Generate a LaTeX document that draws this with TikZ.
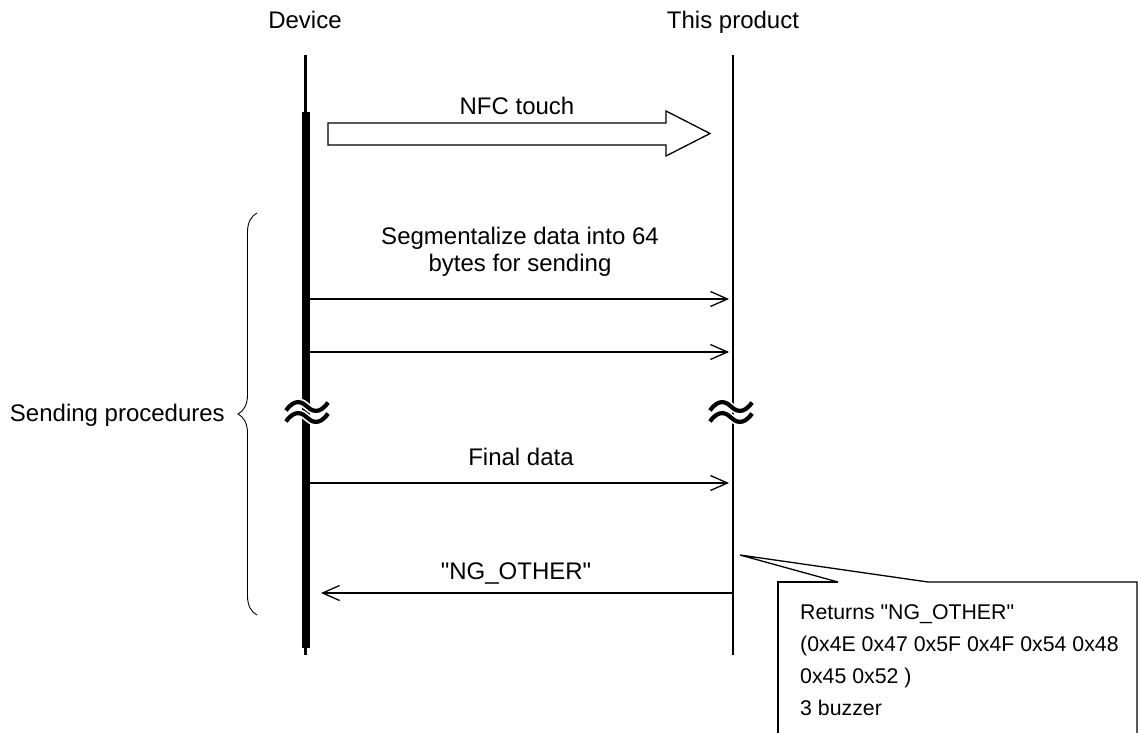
\documentclass[tikz,border=0pt]{standalone}
\usepackage{fontspec}
\setmainfont{Liberation Sans}[Ligatures=TeXOff]
\usetikzlibrary{positioning, arrows.meta, decorations.pathreplacing}

\tikzset{
    breakmark/.pic={
        \foreach \dy in {-5.5,5.5} {
            \draw[white, line width=7.5pt] (-21,4+\dy) .. controls (-12,-9+\dy) and (-4,-4+\dy) .. (0,\dy) .. controls (4,4+\dy) and (12,9+\dy) .. (21,-4+\dy);
            \draw[black, line width=4.2pt] (-21,4+\dy) .. controls (-12,-9+\dy) and (-4,-4+\dy) .. (0,\dy) .. controls (4,4+\dy) and (12,9+\dy) .. (21,-4+\dy);
        }
    }
}

\begin{document}
\begin{tikzpicture}[
    x=1pt, y=-1pt,
    font=\fontsize{24}{26.5}\selectfont,
    head/.style={inner sep=0pt},
    lifeline/.style={line width=2.6pt},
    activebar/.style={line width=8pt},
    msg/.style={line width=1.3pt, -{Straight Barb[length=17pt, width=15pt, line width=1.3pt]}},
    msglabel/.style={align=center, inner sep=0pt},
    blockarrow/.style={draw, line width=1.3pt, fill=white, line join=miter},
    note/.style={align=left, inner sep=0pt, font=\fontsize{21.3}{32}\selectfont}
]
\useasboundingbox (0,0) rectangle (1138,733);

% Headers
\node[head, anchor=base] (device) at (305,29) {Device};
\node[head, anchor=base] (product) at (733,29) {This product};

% Lifelines
\coordinate (devtop) at (305.5,55);
\coordinate (devbot) at (305.5,655);
\coordinate (prodtop) at (733,55);
\coordinate (prodbot) at (733,655);
\draw[lifeline] (devtop) -- (devbot);
\draw[lifeline] (prodtop) -- (prodbot);

% Activation bar of the device
\coordinate (acttop) at (306,112);
\coordinate (actbot) at (306,648);
\draw[activebar] (acttop) -- (actbot);

% NFC touch
\draw[blockarrow] (328,123) -- (666,123) -- (666,111) -- (710,133.5) -- (666,156) -- (666,145) -- (328,145) -- cycle;
\node[msglabel, anchor=base] (nfc) at (517,115) {NFC touch};

% Sending procedures
\node[msglabel, anchor=north] (seglabel) at (520,227) {Segmentalize data into 64\\bytes for sending};
\coordinate (seg1s) at (310,299);
\coordinate (seg1e) at (729,299);
\draw[msg] (seg1s) -- (seg1e);

\coordinate (seg2s) at (310,352);
\coordinate (seg2e) at (729,352);
\draw[msg] (seg2s) -- (seg2e);

% Break marks
\pic at (307,412) {breakmark};
\pic at (731,412) {breakmark};

\node[msglabel, anchor=base] (finallabel) at (521,465) {Final data};
\coordinate (finals) at (310,483);
\coordinate (finale) at (729,483);
\draw[msg] (finals) -- (finale);

% Reply
\node[msglabel, anchor=base] (nglabel) at (516,579) {"NG\_OTHER"};
\coordinate (ngs) at (732,593);
\coordinate (nge) at (321,593);
\draw[msg] (ngs) -- (nge);

% Brace
\coordinate (bracebot) at (257,615);
\coordinate (bracetop) at (257,213);
\draw[line width=0.9pt, decorate, decoration={brace, amplitude=19pt}] (bracebot) -- (bracetop);
\node[head, anchor=base east] (sending) at (225,421) {Sending procedures};

% Callout
\coordinate (tip) at (740,555);
\draw[line width=1.3pt, line join=miter] (838,582) -- (tip) -- (928,582) -- (1137,582) -- (1137,760);
\draw[line width=1.3pt, line join=miter] (838,582) -- (778,582) -- (778,760);
\node[note, anchor=north west] (note) at (800,604) {Returns "NG\_OTHER"\\(0x4E 0x47 0x5F 0x4F 0x54 0x48\\0x45 0x52 )\\3 buzzer};

\end{tikzpicture}
\end{document}
